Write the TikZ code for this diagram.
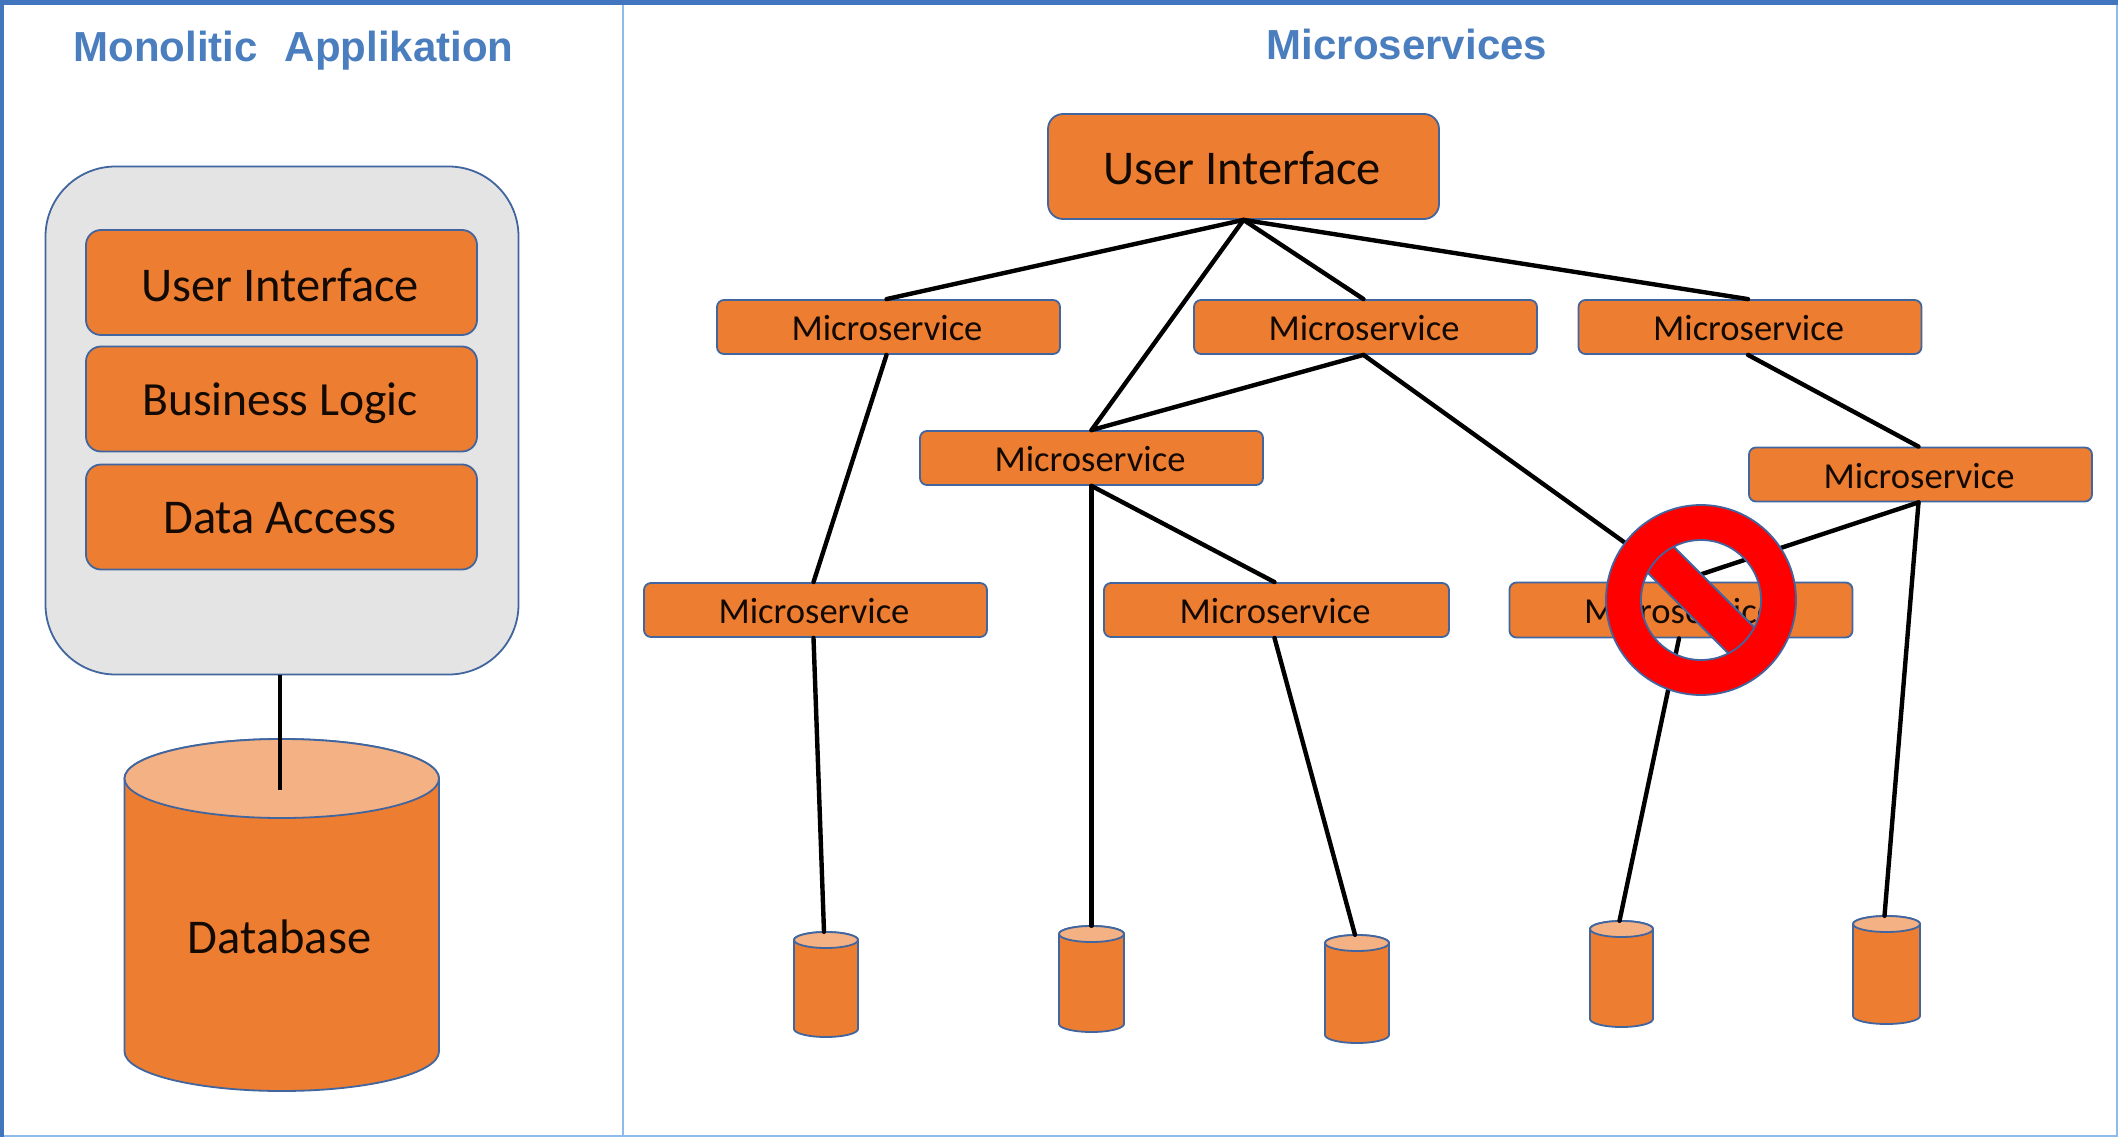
\documentclass[tikz,border=0pt]{standalone}
\usepackage{fontspec}
\setmainfont{Carlito}
\newfontfamily\titlefont{Liberation Sans}[BoldFont={* Bold}]
\definecolor{orangefill}{HTML}{ED7D31}
\definecolor{orangetop}{HTML}{F4B183}
\definecolor{edgeblue}{HTML}{41659F}
\definecolor{framedark}{HTML}{4176BE}
\definecolor{framelight}{HTML}{8FBAEC}
\definecolor{grayback}{HTML}{E4E4E4}
\definecolor{titleblue}{HTML}{4A7EBE}
\newcommand{\lbl}[2][2.8pt]{\raisebox{0pt}[\dimexpr\height+#1\relax][\depth]{#2}\kern3pt}
\tikzset{
  x=1pt,y=-1pt,
  box/.style={draw=edgeblue,line width=1.8pt,fill=orangefill,rectangle,inner sep=0pt,text=black!92!orangefill},
  bigbox/.style={box,rounded corners=15pt,minimum width=391pt,minimum height=105pt,font=\fontsize{48.5}{50}\selectfont},
  svcbox/.style={box,rounded corners=7pt,minimum width=343pt,minimum height=54pt,font=\fontsize{36.6}{40}\selectfont},
  wire/.style={draw=black,line width=4.4pt,line cap=round},
  lx/.style={xshift=-2pt},
  titletext/.style={text=titleblue,font=\titlefont\bfseries\fontsize{42}{46}\selectfont,inner sep=0pt,anchor=base},
}
% [label], name, left, top, right, bottom, end-radius
\newcommand{\dbcyl}[7][]{%
  \pgfmathsetmacro{\cx}{(#3+#5)/2}\pgfmathsetmacro{\cy}{(#4+#6)/2}%
  \pgfmathsetmacro{\rx}{(#5-#3)/2}\pgfmathsetmacro{\ww}{#5-#3}\pgfmathsetmacro{\hh}{#6-#4}%
  \draw[draw=edgeblue,line width=1.8pt,fill=orangefill]
    (#3,#4+#7) -- (#3,#6-#7) arc[start angle=180,end angle=360,x radius=\rx,y radius=-#7]
    -- (#5,#4+#7) arc[start angle=0,end angle=180,x radius=\rx,y radius=-#7] -- cycle;
  \draw[draw=edgeblue,line width=1.8pt,fill=orangetop]
    (\cx,#4+#7) ellipse[x radius=\rx,y radius=#7];
  \node[rectangle,inner sep=0pt,minimum width=\ww pt,minimum height=\hh pt] (#2) at (\cx,\cy) {};
}
\begin{document}
\begin{tikzpicture}
\useasboundingbox (0,0) rectangle (2118,1137);
\fill[white] (0,0) rectangle (2118,1137);
% frame
\draw[framelight,line width=2.5pt] (623,4) -- (623,1137);
\draw[framelight,line width=2.5pt] (0,1136) -- (2118,1136);
\draw[framelight,line width=2.5pt] (2117,4) -- (2117,1137);
\fill[framedark] (0,0) rectangle (2118,5);
\fill[framedark] (0,0) rectangle (4,1137);
% titles
\node[titletext] (t1) at (293.5,62) {Monolitic\hspace{0.36em} Applikation};
\node[titletext] (t2) at (1407,60) {Microservices};
% monolith
\node[rectangle,draw=edgeblue,line width=1.8pt,fill=grayback,rounded corners=70pt,minimum width=473pt,minimum height=508pt] (app) at (282,420.5) {};
\node[bigbox] (mui) at (281.5,282.5) {\lbl[5.4pt]{User Interface}};
\node[bigbox,font=\fontsize{47.6}{50}\selectfont] (mbl) at (281.5,399) {\lbl[8pt]{Business Logic}};
\node[bigbox] (mda) at (281.5,517) {\lbl{Data Access}};
\dbcyl{bigdb}{124.5}{739}{439}{1091}{39.5}
\node[inner sep=0pt,text=black!92!orangefill,font=\fontsize{48.5}{50}\selectfont] (dbl) at (279.5,937) {Database};
\coordinate (dbtop) at (280,790);
\draw[wire,line cap=butt] (app.south -| dbtop) -- (dbtop);
% microservices
\node[bigbox] (ui) at (1243.5,166.5) {\lbl{User Interface}};
\node[svcbox] (m1) at (888.5,327) {\lbl{Microservice}};
\node[svcbox] (m2) at (1365.5,327) {\lbl{Microservice}};
\node[svcbox] (m3) at (1750,327) {\lbl{Microservice}};
\node[svcbox] (m4) at (1091.5,458) {\lbl{Microservice}};
\node[svcbox] (m5) at (1920.5,474.5) {\lbl{Microservice}};
\node[svcbox] (m6) at (815.5,610) {\lbl{Microservice}};
\node[svcbox,minimum width=345pt] (m7) at (1276.5,610) {\lbl{Microservice}};
\node[svcbox,minimum height=55pt] (m8) at (1681,610) {\lbl{Microservice}};
\dbcyl{d1}{794}{932}{858}{1037}{8}
\dbcyl{d2}{1059}{926}{1124}{1032}{8}
\dbcyl{d3}{1325}{935}{1389}{1043}{8}
\dbcyl{d4}{1590}{921}{1653}{1027}{8}
\dbcyl{d5}{1853}{916}{1920}{1024}{8}
% connectors
\draw[wire] (ui.south) -- ([lx]m1.north);
\draw[wire] (ui.south) -- (m4.north);
\draw[wire] (ui.south) -- ([lx]m2.north);
\draw[wire] (ui.south) -- ([lx]m3.north);
\draw[wire] ([lx]m1.south) -- ([lx]m6.north);
\draw[wire] ([lx]m2.south) -- (m4.north);
\draw[wire] ([lx]m2.south) -- ([lx]m8.north);
\draw[wire] ([lx]m3.south) -- ([lx]m5.north);
\draw[wire] (m4.south) -- ([lx]m7.north);
\draw[wire] (m4.south) -- (d2.north);
\draw[wire] ([lx]m5.south) -- ([lx]m8.north);
\draw[wire] ([lx]m5.south) -- ([lx]d5.north);
\draw[wire] ([lx]m6.south) -- ([lx]d1.north);
\draw[wire] ([lx]m7.south) -- ([lx]d3.north);
\draw[wire] ([lx]m8.south) -- ([lx]d4.north);
% prohibition sign
\begin{scope}
  \clip (1701,600) circle[radius=62];
  \fill[red] (1644,569) -- (1670,543) -- (1758,631) -- (1732,657) -- cycle;
  \draw[edgeblue,line width=1.8pt] (1644,569) -- (1732,657) (1670,543) -- (1758,631);
\end{scope}
\draw[edgeblue,line width=1.8pt,fill=red,even odd rule] (1701,600) circle[radius=95] (1701,600) circle[radius=60];
\end{tikzpicture}
\end{document}
